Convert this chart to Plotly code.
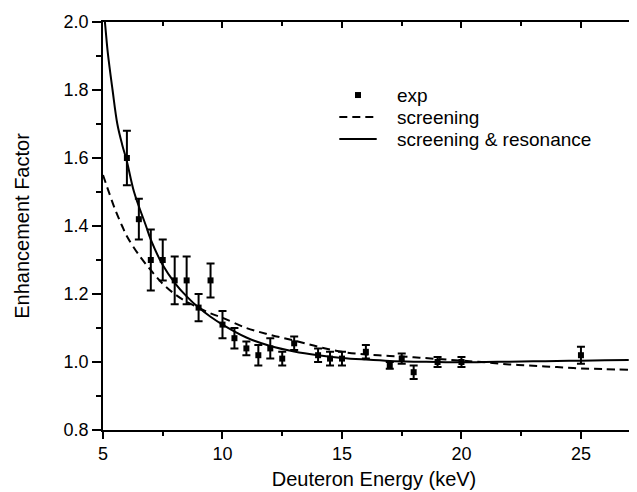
import plotly.graph_objects as go

# Experimental data
exp_x = [6.0, 6.5, 7.0, 7.5, 8.0, 8.5, 9.0, 9.5, 10.0, 10.5, 11.0, 11.5, 12.0, 12.5, 13.0,
         14.0, 14.5, 15.0, 16.0, 17.0, 17.5, 18.0, 19.0, 20.0, 25.0]
exp_y = [1.60, 1.42, 1.30, 1.30, 1.24, 1.24, 1.16, 1.24, 1.11, 1.07, 1.04, 1.02, 1.04, 1.01, 1.055,
         1.02, 1.01, 1.01, 1.03, 0.99, 1.01, 0.97, 1.00, 1.00, 1.02]
exp_err = [0.08, 0.06, 0.09, 0.06, 0.07, 0.07, 0.04, 0.05, 0.04, 0.03, 0.02, 0.03, 0.03, 0.02, 0.02,
           0.02, 0.02, 0.02, 0.02, 0.01, 0.015, 0.02, 0.015, 0.015, 0.025]

# Screening curve
scr_x = [5.0, 5.5, 5.8, 6.0, 6.5, 7.0, 7.5, 8.0, 8.5, 9.0, 9.5, 10.0, 11.0, 12.0, 13.0, 14.0,
         15.0, 16.0, 17.0, 18.0, 19.0, 20.0, 21.0, 22.0, 23.0, 24.0, 25.0, 26.0, 27.0]
scr_y = [1.55, 1.45, 1.40, 1.37, 1.315, 1.27, 1.23, 1.20, 1.177, 1.16, 1.143, 1.13, 1.10, 1.08,
         1.063, 1.045, 1.03, 1.022, 1.018, 1.014, 1.009, 1.004, 0.999, 0.993, 0.989, 0.985,
         0.981, 0.979, 0.977]

# Screening & resonance curve
res_x = [5.0, 5.1, 5.2, 5.4, 5.6, 5.8, 6.0, 6.3, 6.8, 7.0, 7.5, 8.0, 8.5, 9.0, 9.5, 10.0, 11.0,
         12.0, 13.0, 14.0, 15.0, 16.0, 17.0, 18.0, 19.0, 20.0, 21.0, 22.0, 23.0, 24.0, 25.0,
         26.0, 27.0]
res_y = [2.06, 1.985, 1.91, 1.80, 1.70, 1.64, 1.59, 1.50, 1.40, 1.36, 1.285, 1.233, 1.193, 1.16,
         1.133, 1.11, 1.072, 1.047, 1.031, 1.02, 1.012, 1.007, 1.003, 1.001, 1.0, 0.999, 1.0,
         1.001, 1.002, 1.003, 1.004, 1.005, 1.006]

legend_labels = ["exp", "screening", "screening & resonance"]

FONT = "Arial, Liberation Sans, sans-serif"

fig = go.Figure()
fig.add_trace(go.Scatter(
    x=exp_x, y=exp_y, mode="markers", name=legend_labels[0],
    marker=dict(symbol="square", size=6, color="black"),
    error_y=dict(type="data", array=exp_err, visible=True, color="black", thickness=2, width=4),
))
fig.add_trace(go.Scatter(
    x=scr_x, y=scr_y, mode="lines", name=legend_labels[1], line_shape="spline",
    line=dict(color="black", width=2, dash="8px,5px"),
))
fig.add_trace(go.Scatter(
    x=res_x, y=res_y, mode="lines", name=legend_labels[2], line_shape="spline",
    line=dict(color="black", width=2),
))
# invisible trace to activate secondary (mirror) axes
fig.add_trace(go.Scatter(x=[5], y=[0.8], xaxis="x2", yaxis="y2", mode="markers",
                         marker=dict(opacity=0), showlegend=False, hoverinfo="skip"))

# Manual legend (to match tight row spacing of the original)
LX0, LX1, LXM, LTX = 0.436, 0.505, 0.4705, 0.538
LY = [0.821, 0.767, 0.713]
shapes = [
    dict(type="rect", xref="paper", yref="paper", xsizemode="pixel", ysizemode="pixel",
         xanchor=LXM, yanchor=LY[0], x0=-3, x1=3, y0=-3, y1=3,
         fillcolor="black", line=dict(width=0)),
    dict(type="line", xref="paper", yref="paper", x0=LX0, x1=LX1, y0=LY[1], y1=LY[1],
         line=dict(color="black", width=2, dash="8px,5px")),
    dict(type="line", xref="paper", yref="paper", x0=LX0, x1=LX1, y0=LY[2], y1=LY[2],
         line=dict(color="black", width=2)),
]
annotations = [
    dict(text=t, xref="paper", yref="paper", x=LTX, y=y, xanchor="left", yanchor="middle",
         showarrow=False, font=dict(size=19, family=FONT, color="black"))
    for t, y in zip(legend_labels, LY)
]

XR = [5, 27.68]
YR = [0.8, 2.0]
fig.update_layout(
    width=637, height=492,
    margin=dict(l=95, r=0, t=14, b=70),
    paper_bgcolor="white", plot_bgcolor="white",
    font=dict(family=FONT, size=18, color="black"),
    showlegend=False,
    shapes=shapes, annotations=annotations,
    xaxis=dict(range=XR, showgrid=False, zeroline=False, showline=True, linecolor="black",
               linewidth=1.5, ticks="outside", ticklen=7, tickwidth=1.5, tickcolor="black",
               dtick=5, tick0=5, automargin=False,
               minor=dict(dtick=2.5, ticks="outside", ticklen=4, tickwidth=1.5, tickcolor="black"),
               title=dict(text="Deuteron Energy (keV)", standoff=9, font=dict(size=20)),
               tickfont=dict(size=18)),
    yaxis=dict(range=YR, showgrid=False, zeroline=False, showline=True, linecolor="black",
               linewidth=1.5, ticks="outside", ticklen=9, tickwidth=1.5, tickcolor="black",
               dtick=0.2, tick0=0.8, tickformat=".1f", automargin=False,
               minor=dict(dtick=0.1, ticks="outside", ticklen=5, tickwidth=1.5, tickcolor="black"),
               title=dict(text="Enhancement Factor", standoff=29, font=dict(size=20)),
               tickfont=dict(size=18)),
    xaxis2=dict(range=XR, overlaying="x", side="top", showgrid=False, zeroline=False,
                showline=True, linecolor="black", linewidth=1.5, ticks="inside", ticklen=6,
                tickwidth=1.5, tickcolor="black", dtick=5, tick0=5, showticklabels=False,
                automargin=False,
                minor=dict(dtick=2.5, ticks="inside", ticklen=4, tickwidth=1.5, tickcolor="black")),
    yaxis2=dict(range=YR, overlaying="y", side="right", showgrid=False, zeroline=False,
                showline=False, ticks="inside", ticklen=4, tickwidth=1.5, tickcolor="black",
                dtick=0.2, tick0=0.8, showticklabels=False, automargin=False,
                minor=dict(dtick=0.1, ticks="inside", ticklen=3, tickwidth=1.5, tickcolor="black")),
)
fig.write_html("out.html")
